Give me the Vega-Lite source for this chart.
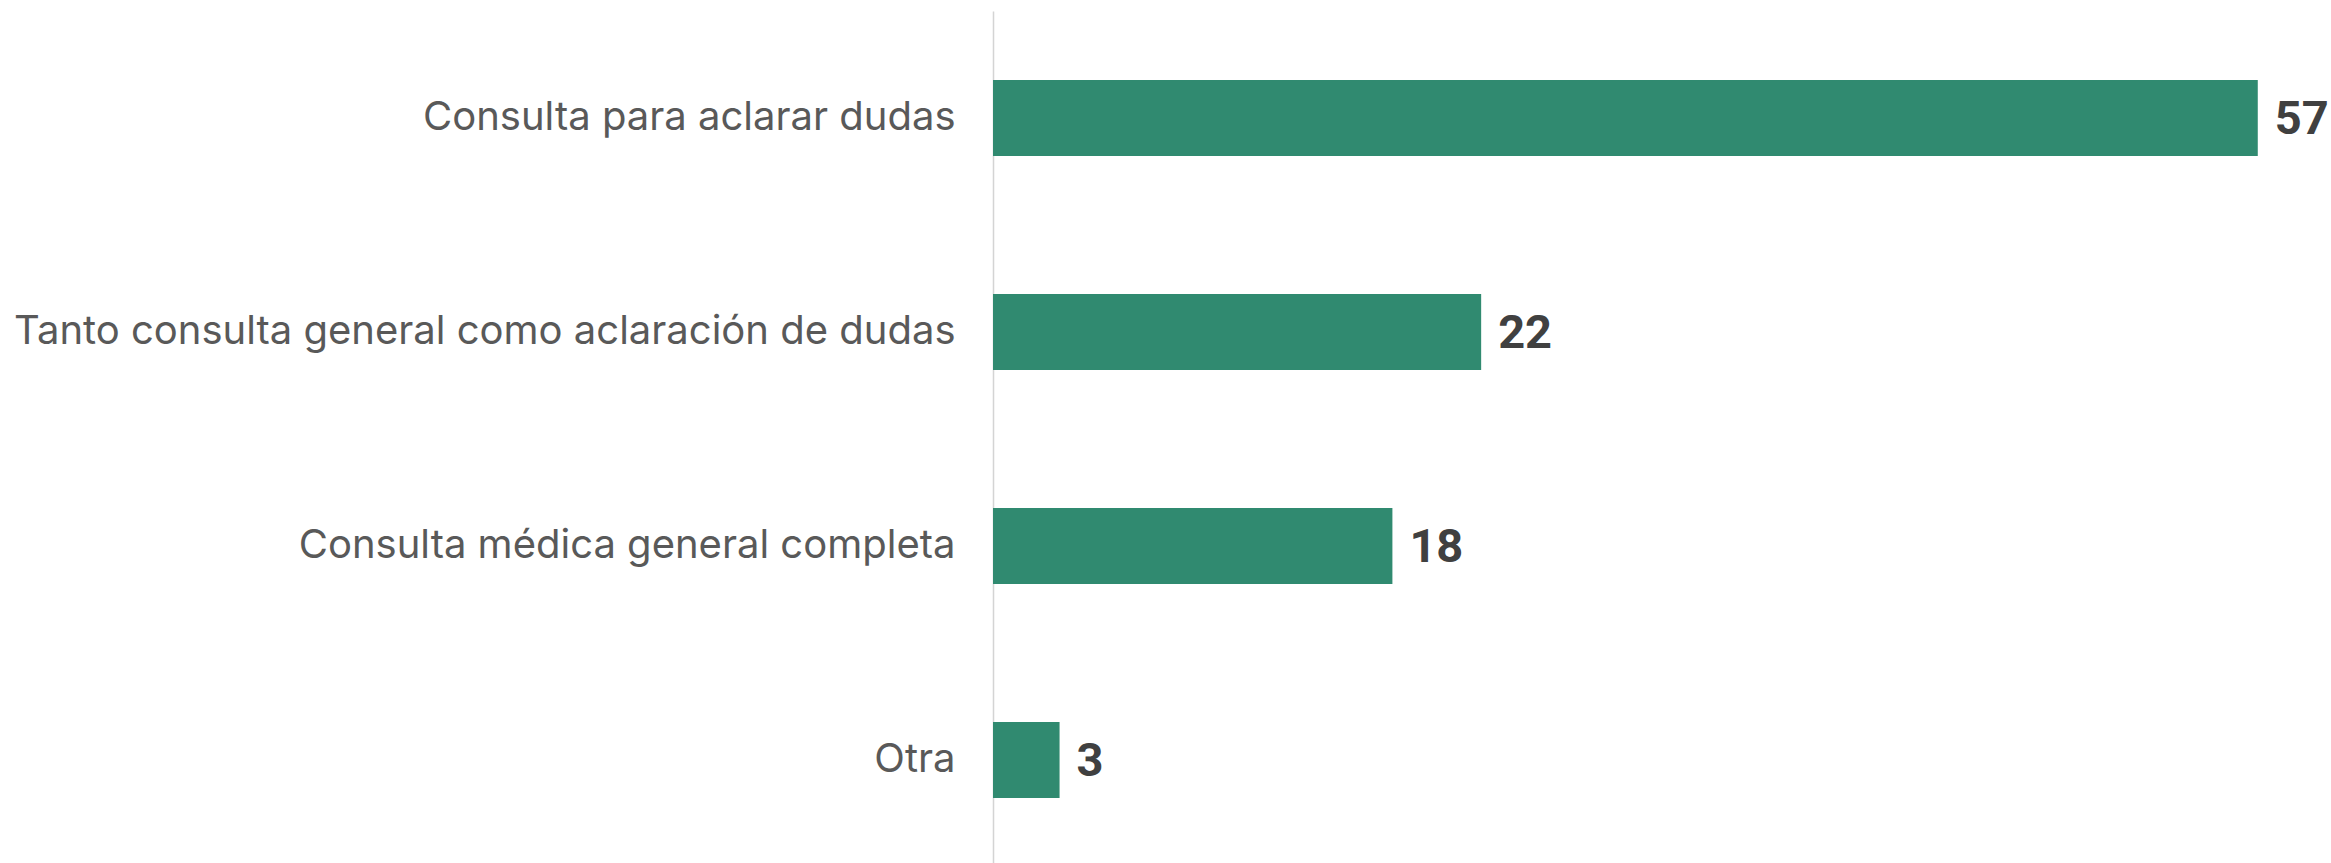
{
  "$schema": "https://vega.github.io/schema/vega-lite/v6.json",
  "width": 1338,
  "height": 856,
  "autosize": {"type": "none"},
  "padding": {"left": 993, "top": 11, "right": 0, "bottom": 0},
  "background": "white",
  "config": {"view": {"stroke": null}},
  "data": {
    "values": [
      {"categoria": "Consulta para aclarar dudas", "valor": 57},
      {"categoria": "Tanto consulta general como aclaración de dudas", "valor": 22},
      {"categoria": "Consulta médica general completa", "valor": 18},
      {"categoria": "Otra", "valor": 3}
    ]
  },
  "encoding": {
    "y": {
      "field": "categoria",
      "type": "nominal",
      "sort": null,
      "scale": {"paddingInner": 0.645, "paddingOuter": 0.3225},
      "axis": {
        "title": null,
        "ticks": false,
        "domain": true,
        "domainColor": "#d4d4d4",
        "domainWidth": 1.5,
        "labelFont": "Inter",
        "labelFontSize": 40,
        "labelColor": "#595959",
        "labelPadding": 38,
        "labelLimit": 1000
      }
    },
    "x": {
      "field": "valor",
      "type": "quantitative",
      "scale": {"domain": [0, 60.3], "nice": false, "zero": true},
      "axis": null
    }
  },
  "layer": [
    {"mark": {"type": "bar", "color": "#308a70"}},
    {
      "mark": {
        "type": "text",
        "align": "left",
        "baseline": "middle",
        "dx": 17,
        "dy": 2,
        "font": "Roboto",
        "fontWeight": "bold",
        "fontSize": 47,
        "color": "#404040"
      },
      "encoding": {"text": {"field": "valor", "type": "quantitative"}}
    }
  ]
}
